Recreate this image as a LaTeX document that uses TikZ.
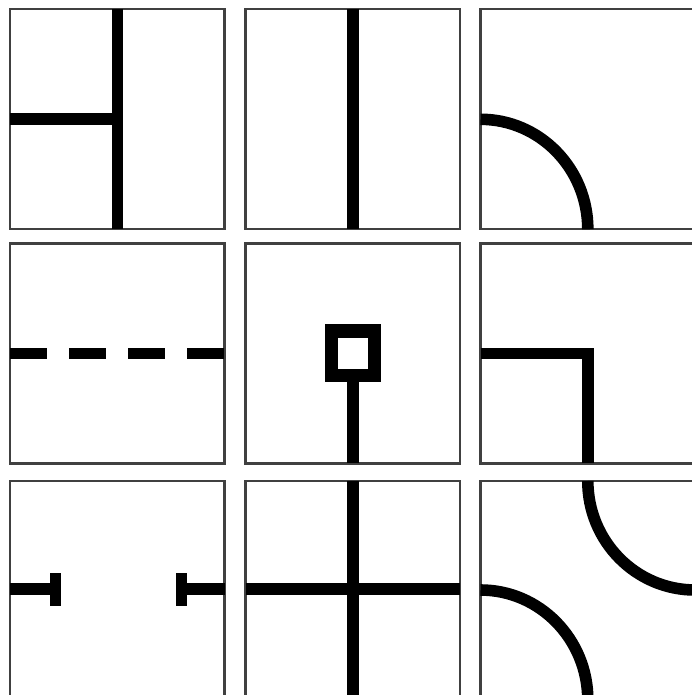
\documentclass[tikz,border=0pt]{standalone}
\begin{document}
\begin{tikzpicture}[
  x=0.5pt,y=-0.5pt,
  frame/.style={draw=black!75,line width=1.25pt},
  wire/.style={draw=black,line width=5.8pt},
  pad/.style={fill=black}
]
  \useasboundingbox (0,0) rectangle (691,695);
  % Frames
  \foreach \x in {10,245.7,480.5}
    \foreach \y in {9,243.3,481}
      \draw[frame] (\x,\y) rectangle ++(214.5,220);
  % T junction
  \draw[wire] (117.5,9) -- (117.5,229.3);
  \draw[wire] (10,119.2) -- (117.5,119.2);
  % Straight
  \draw[wire] (353,9) -- (353,229.3);
  % Curve
  \draw[wire] (480.5,119.3) arc[start angle=-90,end angle=0,x radius=107.3,y radius=110];
  % Dashed
  \draw[wire,dash pattern=on 18.5pt off 11.08pt] (10,353.3) -- (224.5,353.3);
  % Terminal
  \draw[black,line width=6.6pt] (331.5,331) rectangle (374.3,375.5);
  \draw[wire] (353,382) -- (353,463.3);
  % Corner
  \draw[wire] (480.5,353.3) -- (587.8,353.3) -- (587.8,463.3);
  % Open ends
  \draw[wire] (10,589) -- (50,589);
  \fill[pad] (50,573) rectangle (61,606);
  \draw[wire] (186.7,589) -- (224.5,589);
  \fill[pad] (175.7,573) rectangle (186.7,606);
  % Cross
  \draw[wire] (353,481) -- (353,701);
  \draw[wire] (245.7,589) -- (460.2,589);
  % Double curve
  \draw[wire] (587.8,481) arc[start angle=180,end angle=90,x radius=107.3,y radius=109];
  \draw[wire] (480.5,590) arc[start angle=-90,end angle=0,x radius=107.3,y radius=110];
\end{tikzpicture}
\end{document}
